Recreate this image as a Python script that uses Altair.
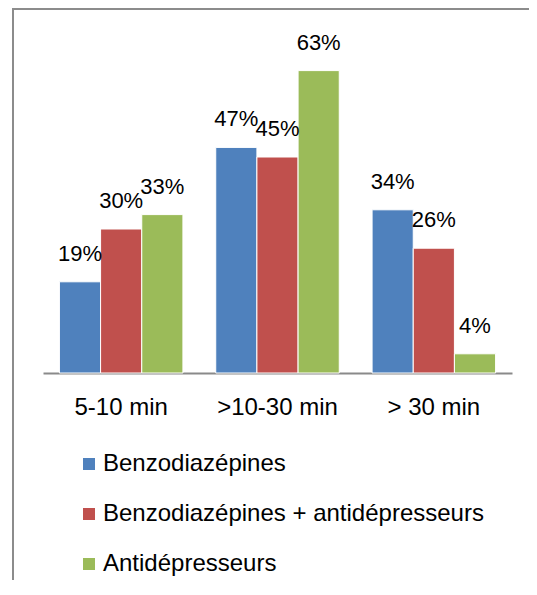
import altair as alt
import pandas as pd

categories = ["5-10 min", ">10-30 min", "> 30 min"]
series = ["Benzodiazépines", "Benzodiazépines + antidépresseurs", "Antidépresseurs"]
benzo = [19, 47, 34]
benzo_anti = [30, 45, 26]
anti = [33, 63, 4]
colors = ["#4F81BD", "#C0504D", "#9BBB59"]

rows = []
for s, vals in zip(series, [benzo, benzo_anti, anti]):
    for c, v in zip(categories, vals):
        rows.append({"cat": c, "series": s, "value": v, "label": f"{v}%"})
df = pd.DataFrame(rows)

FONT = "Liberation Sans"

x = alt.X("cat:N", sort=categories, title=None,
          scale=alt.Scale(paddingInner=0.21, paddingOuter=0.105),
          axis=alt.Axis(labelAngle=0, ticks=False, labelFontSize=24, labelFont=FONT,
                        labelColor="#000000", labelPadding=22, labelBaseline="top",
                        domainColor="#8a8a8a", domainWidth=2, grid=False))
xo = alt.XOffset("series:N", sort=series, scale=alt.Scale(paddingInner=0, paddingOuter=0))
y = alt.Y("value:Q", scale=alt.Scale(domain=[0, 70]), axis=None)

bars = alt.Chart(df).mark_bar(stroke="white", strokeWidth=1).encode(
    x=x, xOffset=xo, y=y,
    color=alt.Color("series:N", sort=series,
                    scale=alt.Scale(domain=series, range=colors),
                    legend=alt.Legend(orient="none", legendX=34, legendY=415,
                                      direction="vertical", title=None,
                                      symbolType="square", symbolSize=144,
                                      symbolStrokeWidth=0, labelFontSize=24,
                                      labelFont=FONT, labelColor="#000000",
                                      rowPadding=26, labelOffset=2, padding=0,
                                      labelLimit=500)),
)

labels = alt.Chart(df).mark_text(baseline="middle", align="center", dy=-28,
                                 fontSize=22, font=FONT, color="#000000").encode(
    x=x, xOffset=xo, y=y, text="label:N"
)

border_df = pd.DataFrame({"a": [0]})
vbar = alt.Chart(border_df).mark_rect(color="#8c8c8c").encode(
    x=alt.value(-31), x2=alt.value(-29), y=alt.value(-29), y2=alt.value(545)
)
hbar = alt.Chart(border_df).mark_rect(color="#8c8c8c").encode(
    x=alt.value(-31), x2=alt.value(486), y=alt.value(-29), y2=alt.value(-27)
)

chart = alt.layer(bars, labels, vbar, hbar).properties(
    width=469, height=336,
    autosize=alt.AutoSizeParams(type="none"),
    padding={"left": 35, "top": 29, "right": 17, "bottom": 207},
    background="white",
).configure_view(stroke=None)

chart.save("out.html", embed_options={"renderer": "svg", "actions": False})
